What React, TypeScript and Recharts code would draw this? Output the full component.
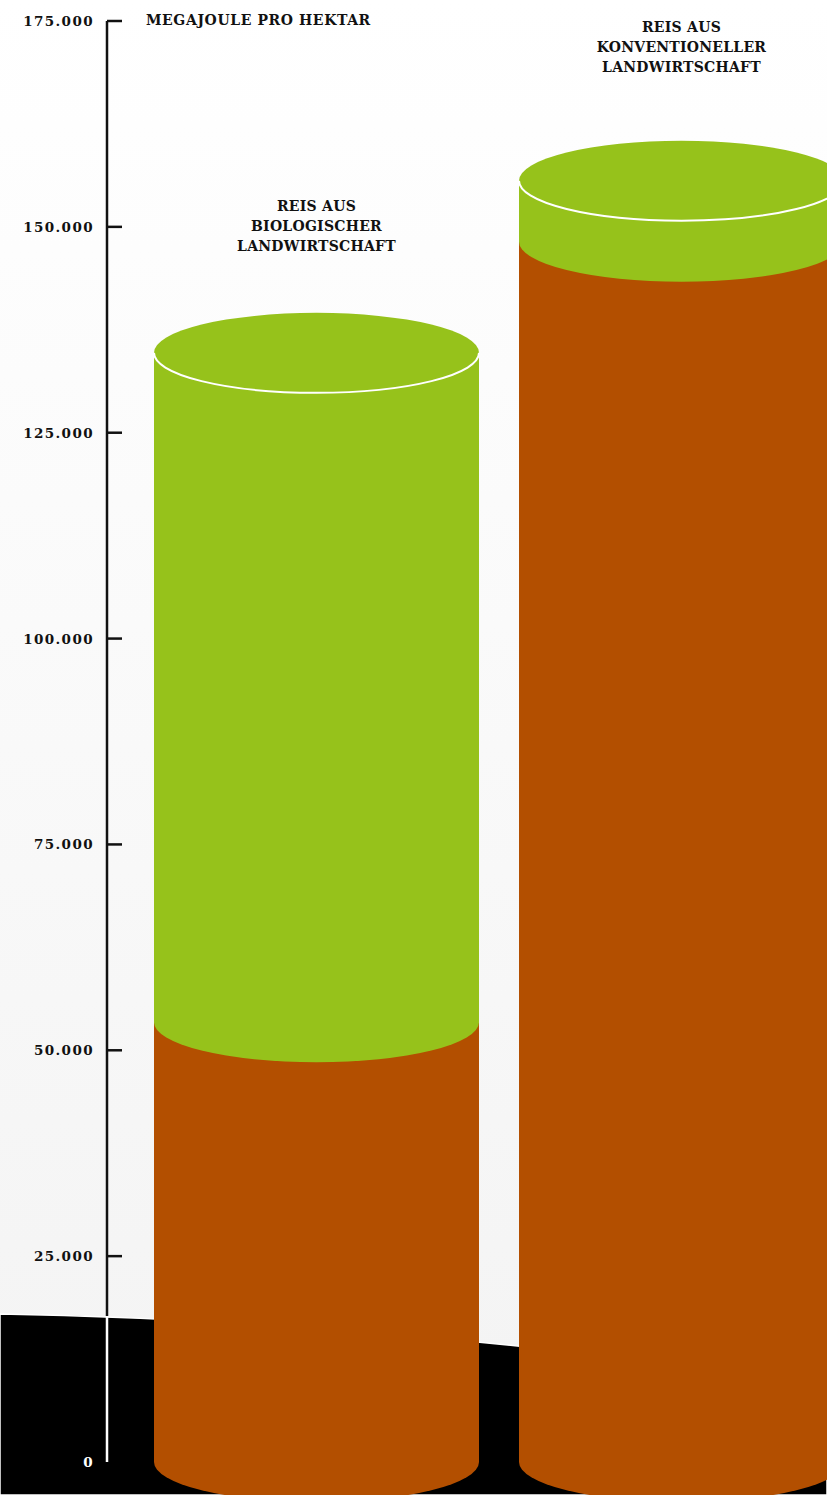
import { BarChart, Bar, XAxis, YAxis, LabelList } from 'recharts';

const categories = ['Reis aus biologischer Landwirtschaft', 'Reis aus konventioneller Landwirtschaft'];
const labelLines = [
  ['REIS AUS', 'BIOLOGISCHER', 'LANDWIRTSCHAFT'],
  ['REIS AUS', 'KONVENTIONELLER', 'LANDWIRTSCHAFT'],
];
const lowerValues = [53400, 148200];
const upperValues = [81300, 7400];
const yTicks = [0, 25000, 50000, 75000, 100000, 125000, 150000, 175000];
const unitLabel = 'MEGAJOULE PRO HEKTAR';

const BROWN = '#b34f00';
const GREEN = '#96c21b';
const FONT = '"DejaVu Serif", serif';
const GROUND_Y = 1316;

const data = categories.map((name, i) => ({ name, lower: lowerValues[i], upper: upperValues[i] }));

function formatTick(v: number) {
  return String(v).replace(/\B(?=(\d{3})+(?!\d))/g, '.');
}

const RY = 40;

function LowerShape(props: any) {
  const { x, y, width, height } = props;
  const rx = width / 2;
  const b = y + height;
  return <path d={`M${x},${y} L${x},${b} A${rx},${RY} 0 0 0 ${x + width},${b} L${x + width},${y} Z`} fill={BROWN} />;
}

function UpperShape(props: any) {
  const { x, y, width, height } = props;
  const rx = width / 2;
  const b = y + height;
  return (
    <g>
      <path d={`M${x},${y} L${x},${b} A${rx},${RY} 0 0 0 ${x + width},${b} L${x + width},${y} Z`} fill={GREEN} />
      <ellipse cx={x + rx} cy={y} rx={rx} ry={RY} fill={GREEN} />
      <path d={`M${x},${y} A${rx},${RY} 0 0 0 ${x + width},${y}`} fill="none" stroke="#fff" strokeWidth={2} />
    </g>
  );
}

function CategoryLabel(props: any) {
  const { x, y, width, value } = props;
  const lines = labelLines[categories.indexOf(value)] ?? [];
  const shift = value === categories[0] ? 8 : 1;
  return (
    <text x={x + width / 2} y={y - 150} textAnchor="middle" fontFamily={FONT} fontWeight="bold" fontSize={14} letterSpacing={0.25} fill="#111">
      {lines.map((l, i) => (
        <tspan key={i} x={x + width / 2} dy={i === 0 ? shift : 20}>{l}</tspan>
      ))}
    </text>
  );
}

function YTick(props: any) {
  const { x, y, payload } = props;
  const v = payload.value;
  const onGround = y > GROUND_Y;
  return (
    <g>
      {v !== 0 && <line x1={x} x2={x + 15} y1={y} y2={y} stroke="#111" strokeWidth={2.5} />}
      <text x={x - 13} y={y} dy={5} textAnchor="end" fontFamily={FONT} fontWeight="bold" fontSize={13.5} letterSpacing={1.4} fill={onGround ? '#fff' : '#111'}>
        {formatTick(v)}
      </text>
    </g>
  );
}

function UnitLabel(props: any) {
  const { viewBox } = props;
  return (
    <text x={viewBox.x + viewBox.width + 39} y={viewBox.y} dy={4} fontFamily={FONT} fontWeight="bold" fontSize={14} letterSpacing={0.6} fill="#111">
      {unitLabel}
    </text>
  );
}

export default function App() {
  return (
    <div style={{ position: 'absolute', left: 0, top: 0, width: 827, height: 1495, overflow: 'hidden', background: 'linear-gradient(#ffffff, #f3f3f3)' }}>
      <svg width={827} height={1495} style={{ position: 'absolute', left: 0, top: 0 }}>
        <defs>
          <linearGradient id="axisGrad" gradientUnits="userSpaceOnUse" x1={0} y1={0} x2={0} y2={1495}>
            <stop offset={GROUND_Y / 1495} stopColor="#111" />
            <stop offset={GROUND_Y / 1495} stopColor="#fff" />
          </linearGradient>
        </defs>
        {/* ground */}
        <path d="M0,1314 Q413,1322 827,1386 L827,1495 L0,1495 Z" fill="#000" stroke="#fff" strokeWidth={1.5} />
      </svg>
      <div style={{ position: 'absolute', left: 0, top: 0 }}>
        <BarChart width={864} height={1495} data={data} margin={{ top: 21, right: 0, bottom: 33, left: 0 }} barCategoryGap={20}>
          <XAxis dataKey="name" hide padding={{ left: 27, right: 0 }} />
          <YAxis
            type="number"
            domain={[0, 175000]}
            ticks={yTicks}
            width={107}
            tickSize={0}
            tickMargin={0}
            tickLine={false}
            axisLine={{ stroke: 'url(#axisGrad)', strokeWidth: 2.5 }}
            tick={<YTick />}
            interval={0}
            label={<UnitLabel />}
          />
          <Bar dataKey="lower" stackId="a" fill={BROWN} shape={<LowerShape />} isAnimationActive={false} />
          <Bar dataKey="upper" stackId="a" fill={GREEN} shape={<UpperShape />} isAnimationActive={false}>
            <LabelList dataKey="name" content={<CategoryLabel />} />
          </Bar>
        </BarChart>
      </div>
    </div>
  );
}
